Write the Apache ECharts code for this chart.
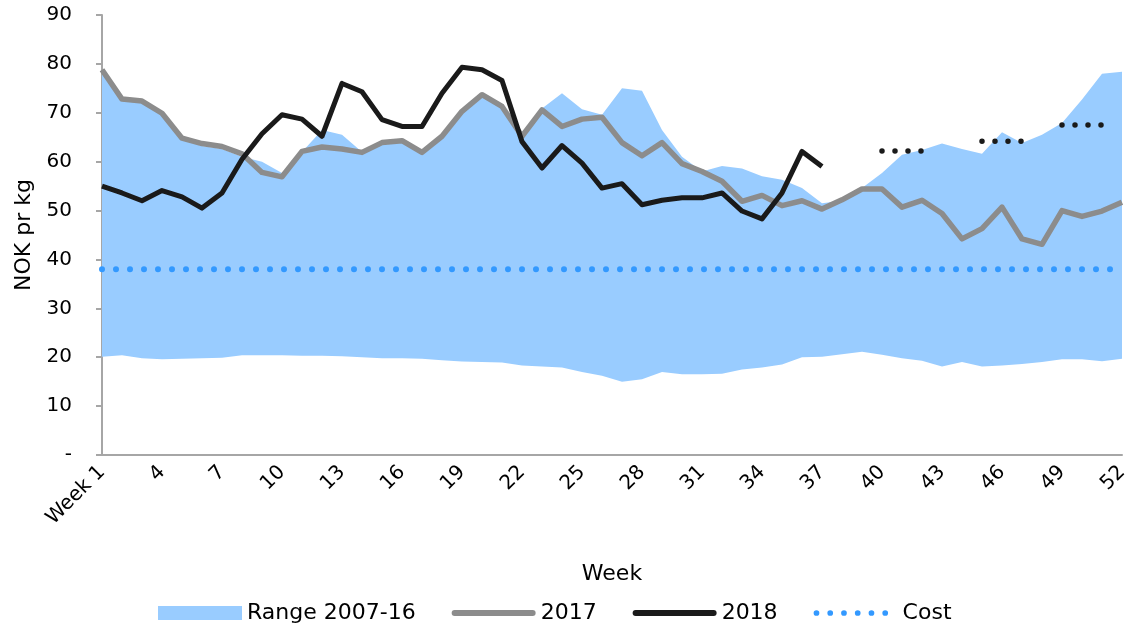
<!DOCTYPE html>
<html>
<head>
<meta charset="utf-8">
<title>Salmon price</title>
<script src="https://cdn.jsdelivr.net/npm/echarts@6/dist/echarts.min.js"></script>
<style>
  html, body { margin: 0; padding: 0; background: #fff; }
  #main { width: 1140px; height: 628px; }
</style>
</head>
<body>
<div id="main"></div>
<script>
// week labels (x axis)
var weeks = ['Week 1', '2', '3', '4', '5', '6', '7', '8', '9', '10',
  '11', '12', '13', '14', '15', '16', '17', '18', '19', '20',
  '21', '22', '23', '24', '25', '26', '27', '28', '29', '30',
  '31', '32', '33', '34', '35', '36', '37', '38', '39', '40',
  '41', '42', '43', '44', '45', '46', '47', '48', '49', '50',
  '51', '52'];

// range 2007-16, low and high per week
var rangeLow = [20.1, 20.4, 19.8, 19.6, 19.7, 19.8, 19.9, 20.4, 20.4, 20.4,
  20.3, 20.3, 20.2, 20.0, 19.8, 19.8, 19.7, 19.4, 19.1, 19.0,
  18.9, 18.3, 18.1, 17.9, 17.0, 16.2, 15.0, 15.5, 17.0, 16.5,
  16.5, 16.6, 17.5, 17.9, 18.5, 20.0, 20.1, 20.6, 21.1, 20.5,
  19.8, 19.3, 18.1, 19.0, 18.1, 18.3, 18.6, 19.0, 19.6, 19.6,
  19.2, 19.7];
var rangeHigh = [78.8, 72.5, 72.0, 69.5, 64.5, 63.2, 62.6, 61.0, 60.0, 57.7,
  62.0, 66.5, 65.5, 62.0, 63.5, 64.0, 62.0, 65.0, 70.0, 73.5,
  71.0, 66.0, 70.9, 74.0, 70.7, 69.6, 75.0, 74.5, 66.5, 61.0,
  58.0, 59.1, 58.6, 57.0, 56.3, 54.6, 51.5, 52.0, 54.6, 57.7,
  61.4, 62.4, 63.7, 62.6, 61.6, 66.0, 63.8, 65.5, 67.9, 72.7,
  78.0, 78.4];

var price2017 = [78.8, 72.8, 72.4, 69.9, 64.8, 63.7, 63.1, 61.6, 57.8, 56.9,
  62.1, 63.0, 62.6, 61.9, 63.9, 64.3, 61.9, 65.2, 70.3, 73.7,
  71.3, 65.2, 70.6, 67.2, 68.7, 69.1, 63.9, 61.2, 63.9, 59.6,
  58.0, 56.0, 51.9, 53.1, 51.0, 52.0, 50.3, 52.2, 54.4, 54.4,
  50.7, 52.1, 49.4, 44.2, 46.3, 50.7, 44.2, 43.1, 50.0, 48.8,
  49.9, 51.7];

var price2018 = [55.0, 53.6, 52.0, 54.1, 52.8, 50.5, 53.6, 60.5, 65.7, 69.6,
  68.7, 65.2, 76.0, 74.3, 68.6, 67.2, 67.2, 74.0, 79.3, 78.8,
  76.6, 64.1, 58.7, 63.3, 59.7, 54.6, 55.5, 51.2, 52.1, 52.6,
  52.6, 53.6, 49.9, 48.3, 53.6, 62.1, 59.0];

var costLevel = 38;

// forward prices: [first week, last week, price]
var forwardPrices = [[40, 42, 62.2], [45, 47, 64.2], [49, 51, 67.5]];

var yTicks = [0, 10, 20, 30, 40, 50, 60, 70, 80, 90];

// build series data
var rangeSpan = rangeHigh.map(function (h, i) { return +(h - rangeLow[i]).toFixed(1); });
var costLine = weeks.map(function () { return costLevel; });
var forwardLine = weeks.map(function () { return '-'; });
forwardPrices.forEach(function (f) {
  for (var w = f[0]; w <= f[1]; w++) forwardLine[w - 1] = f[2];
});

// legend icons: thick rounded bar and a row of dots (with a little space after)
var barIcon = 'path://M3,0 L81,0 A3,3 0 0 1 81,6 L3,6 A3,3 0 0 1 3,0 Z';
var dotIcon = 'path://';
for (var d = 0; d < 6; d++) {
  var cx = 3 + d * 14.4;
  dotIcon += 'M' + (cx - 3) + ',3 A3,3 0 1 0 ' + (cx + 3) + ',3 A3,3 0 1 0 ' + (cx - 3) + ',3 Z ';
}
dotIcon += 'M88,3';

var font = 'DejaVu Sans';
var axisGrey = '#a6a6a6';

var myChart = echarts.init(document.getElementById('main'));
var option = {
  animation: false,
  textStyle: { fontFamily: font },
  grid: { left: 102, right: 18, top: 15, bottom: 173, containLabel: false },
  legend: {
    left: 153,
    top: 597,
    itemWidth: 84,
    itemHeight: 14,
    itemGap: 36,
    textStyle: { fontSize: 22, color: '#000', fontFamily: font },
    data: [
      { name: 'Range 2007-16', icon: 'rect', itemStyle: { color: '#99CCFF' } },
      { name: '2017', icon: barIcon },
      { name: '2018', icon: barIcon },
      { name: 'Cost', icon: dotIcon }
    ]
  },
  xAxis: {
    type: 'category',
    data: weeks,
    boundaryGap: false,
    name: 'Week',
    nameLocation: 'middle',
    nameGap: 108,
    nameTextStyle: { fontSize: 22, color: '#000' },
    axisLine: { lineStyle: { color: axisGrey, width: 2 } },
    axisTick: { show: false },
    axisLabel: {
      interval: 2,
      rotate: 45,
      margin: 14,
      fontSize: 20,
      color: '#000'
    },
    splitLine: { show: false }
  },
  yAxis: {
    type: 'value',
    min: yTicks[0],
    max: yTicks[yTicks.length - 1],
    interval: 10,
    name: 'NOK pr kg',
    nameLocation: 'middle',
    nameGap: 60,
    nameTextStyle: { fontSize: 22, color: '#000' },
    axisLine: { show: true, lineStyle: { color: axisGrey, width: 2 } },
    axisTick: { show: true, length: 6, lineStyle: { color: axisGrey, width: 2 } },
    axisLabel: {
      margin: 30,
      fontSize: 20,
      color: '#000',
      formatter: function (v) { return v === 0 ? '-' : v; }
    },
    splitLine: { show: false }
  },
  series: [
    {
      name: 'rangeBase',
      type: 'line',
      stack: 'range',
      data: rangeLow,
      symbol: 'none',
      lineStyle: { width: 0, opacity: 0 },
      silent: true
    },
    {
      name: 'Range 2007-16',
      type: 'line',
      stack: 'range',
      data: rangeSpan,
      symbol: 'none',
      itemStyle: { color: '#99CCFF' },
      lineStyle: { width: 0, opacity: 0 },
      areaStyle: { color: '#99CCFF', opacity: 1 }
    },
    {
      name: 'Cost',
      type: 'line',
      data: costLine,
      symbol: 'none',
      itemStyle: { color: '#3399FF' },
      lineStyle: { color: '#3399FF', width: 6, type: [0, 14], cap: 'round' }
    },
    {
      name: '2017',
      type: 'line',
      data: price2017,
      symbol: 'none',
      itemStyle: { color: '#8c8c8c' },
      lineStyle: { color: '#8c8c8c', width: 5.5, join: 'round' }
    },
    {
      name: '2018',
      type: 'line',
      data: price2018,
      symbol: 'none',
      itemStyle: { color: '#1a1a1a' },
      lineStyle: { color: '#1a1a1a', width: 5, join: 'round' }
    },
    {
      name: 'Forward',
      type: 'line',
      data: forwardLine,
      symbol: 'none',
      connectNulls: false,
      itemStyle: { color: '#1a1a1a' },
      lineStyle: { color: '#1a1a1a', width: 5.5, type: [0, 13], cap: 'round' }
    }
  ]
};
myChart.setOption(option);
</script>
</body>
</html>
